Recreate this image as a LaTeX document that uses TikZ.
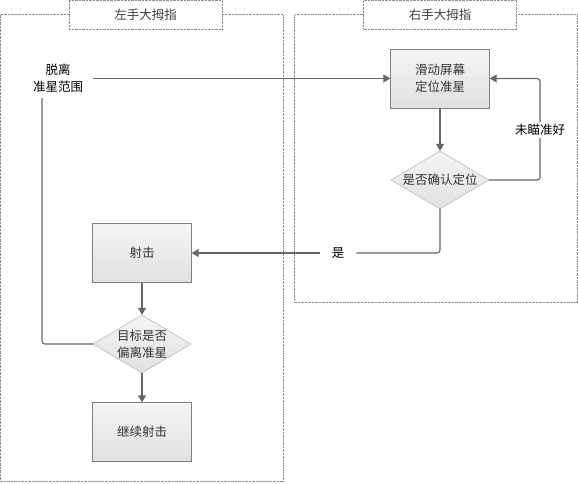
\documentclass[tikz,border=0pt]{standalone}
\usepackage{fontspec}
\setmainfont{Noto Sans CJK SC}
\usetikzlibrary{shapes.geometric,arrows.meta}
\begin{document}
\begin{tikzpicture}
[
 x=1pt, y=-1pt,
 font=\fontsize{12.5}{17}\selectfont,
 lane/.style={draw=black!45, densely dotted},
 title/.style={draw=black!45, densely dotted, fill=white, text=black!75, minimum width=153pt, minimum height=29pt},
 proc/.style={rectangle, draw=black!50, top color=black!4, bottom color=black!12, minimum width=99pt, minimum height=59pt, align=center, text=black!80},
 dec/.style={diamond, aspect=1.8, draw=black!35, top color=black!4, bottom color=black!12, minimum width=98pt, minimum height=58pt, inner sep=-1pt, align=center, text=black!80},
 flow/.style={draw=black!60, line width=1.1pt, rounded corners=3pt},
 tip/.style={-{Triangle[width=8pt,length=7pt]}},
 lbl/.style={fill=white, text=black, inner sep=2pt, align=center},
 ]
 %
\useasboundingbox (0,0) rectangle (578,483);
%
\draw [lane] (0.5,14.5) rectangle (283.5,481.5);
\draw [lane] (294.5,14.5) rectangle (577.5,302.5);
\node [title] (LT) at (145.5,14.5) {左手大拇指};
\node [title] (RT) at (440,14.5) {右手大拇指};
%
\node [proc] (Slide)   at (440,78.5) {滑动屏幕\\定位准星};
\node [dec]  (Confirm) at (440,180)  {是否确认定位};
\node [proc] (Shoot)   at (142,253)  {射击};
\node [dec]  (Check)   at (142,344)  {目标是否\\偏离准星};
\node [proc] (Keep)    at (142,432)  {继续射击};
%
\node [lbl, inner xsep=10pt] (Leave) at (58,78.5) {脱离\\准星范围};
\node [lbl] (Aim) at (540,130) {未瞄准好};
\node [lbl, inner xsep=12pt] (Yes) at (338,253) {是};
\coordinate (Up) at (42,98);
%
\draw [flow,tip] (Slide.south) -- (Confirm.north);
\draw [flow] (Confirm.east) -| (Aim.south);
\draw [flow,tip] (Aim.north) |- (Slide.east);
\draw [flow] (Confirm.south) |- (Yes.east);
\draw [flow,tip] (Yes.west) -- (Shoot.east);
\draw [flow,tip] (Shoot.south) -- (Check.north);
\draw [flow,tip] (Check.south) -- (Keep.north);
\draw [flow] (Check.west) -| (Up);
\draw [flow,tip] (Leave.east) -- (Slide.west);
%
\end{tikzpicture}
\end{document}
